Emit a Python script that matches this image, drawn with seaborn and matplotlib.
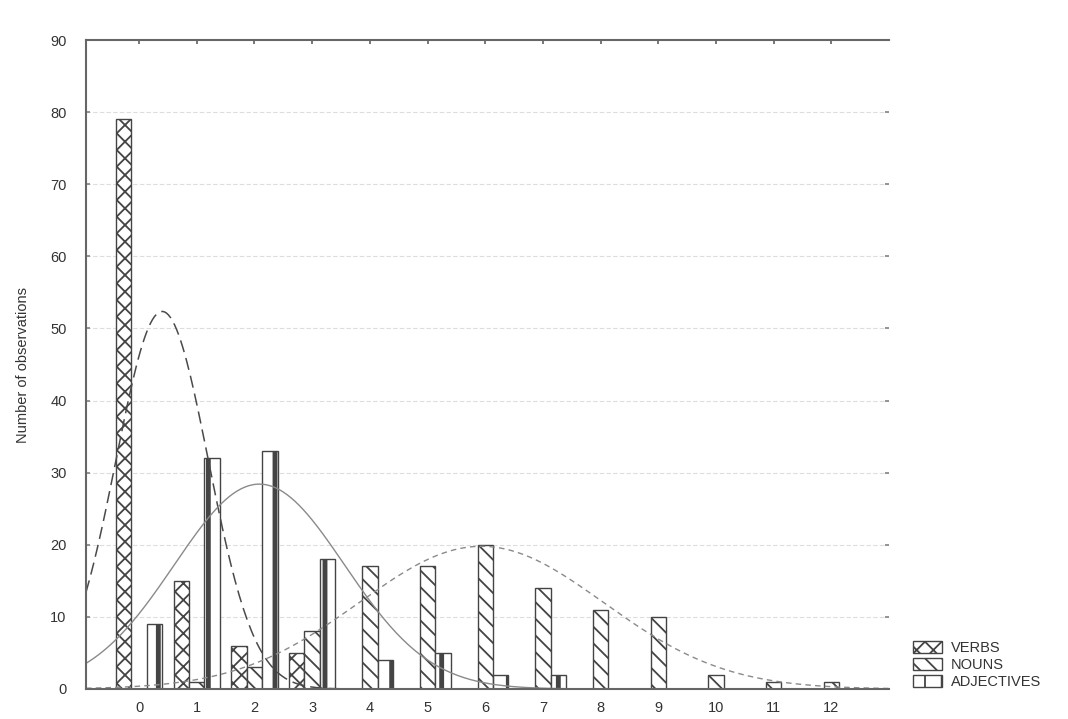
import numpy as np
import pandas as pd
import matplotlib
matplotlib.use("Agg")
import matplotlib.pyplot as plt
import seaborn as sns
from matplotlib.patches import Patch

# ---- data ----
categories = list(range(13))
verbs = [79, 15, 6, 5, 0, 0, 0, 0, 0, 0, 0, 0, 0]
nouns = [0, 1, 3, 8, 17, 17, 20, 14, 11, 10, 2, 1, 1]
adjectives = [9, 32, 33, 18, 4, 5, 2, 2, 0, 0, 0, 0, 0]
series_names = ["VERBS", "NOUNS", "ADJECTIVES"]
y_ticks = [0, 10, 20, 30, 40, 50, 60, 70, 80, 90]
y_label = "Number of observations"

sns.set_theme(style="white")
plt.rcParams["font.family"] = ["Liberation Sans", "DejaVu Sans"]
plt.rcParams["hatch.linewidth"] = 1.3
plt.rcParams["hatch.color"] = "#444444"

df = pd.DataFrame({
    "bin": categories * 3,
    "count": verbs + nouns + adjectives,
    "series": [series_names[0]] * 13 + [series_names[1]] * 13 + [series_names[2]] * 13,
})

fig = plt.figure(figsize=(10.68, 7.19), dpi=100)
ax = fig.add_axes([86 / 1068, 30 / 719, (889 - 86) / 1068, (689 - 40) / 719])

sns.barplot(data=df, x="bin", y="count", hue="series", hue_order=series_names,
            order=categories, width=0.8, dodge=True, legend=False, ax=ax,
            palette=["white"] * 3, edgecolor="#444444", linewidth=1.0,
            errorbar=None, saturation=1)

hatches = ["xx", "\\\\", "|"]
hatch_lw = [1.3, 1.3, 3.5]
for cont, h, hl in zip(ax.containers, hatches, hatch_lw):
    for p in cont.patches:
        p.set_hatch(h)
        p.set_facecolor("white")
        p.set_edgecolor("#444444")
        try:
            p.set_hatch_linewidth(hl)
        except Exception:
            pass

# fitted normal curves (from each series' own mean / sd / total)
xs = np.linspace(-0.92, 13.0, 400)
cat_arr = np.array(categories, dtype=float)
curve_styles = [
    dict(color="#4a4a4a", dashes=(8, 4), lw=1.1),
    dict(color="#8a8a8a", dashes=(4, 3), lw=1.0),
    dict(color="#8a8a8a", dashes=None, lw=1.0),
]
for vals, st in zip([verbs, nouns, adjectives], curve_styles):
    v = np.array(vals, dtype=float)
    n = v.sum()
    mu = (cat_arr * v).sum() / n
    sd = np.sqrt(((cat_arr - mu) ** 2 * v).sum() / n)
    ys = n / (sd * np.sqrt(2 * np.pi)) * np.exp(-(xs - mu) ** 2 / (2 * sd ** 2))
    sns.lineplot(x=xs, y=ys, ax=ax, color=st["color"], lw=st["lw"],
                 sort=False, estimator=None)
    ln = ax.lines[-1]
    if st["dashes"]:
        ln.set_dashes(st["dashes"])

ax.set_xlim(-0.92, 13.0)
ax.set_ylim(0, 90)
ax.set_yticks(y_ticks)
ax.set_yticklabels([str(t) for t in y_ticks], fontsize=10.5, color="#333333")
ax.set_xticks(categories)
ax.set_xticklabels([str(c) for c in categories], fontsize=10.5, color="#333333")
ax.set_xlabel("")
ax.set_ylabel(y_label, fontsize=10.5, color="#333333")
ax.yaxis.set_label_coords(-0.07, 0.5)

for yv in y_ticks[1:-1]:
    ax.axhline(yv, color="#dddddd", lw=0.8, ls=(0, (4, 2)), zorder=0)

for side in ["left", "bottom", "top"]:
    ax.spines[side].set_visible(True)
    ax.spines[side].set_color("#666666")
    ax.spines[side].set_linewidth(1.5)
ax.spines["right"].set_visible(False)

ax.tick_params(axis="y", which="both", left=True, direction="out",
               length=3, color="#888888", pad=14)
ax.tick_params(axis="y", which="both", right=True, direction="in")
ax.tick_params(axis="x", bottom=False, top=True, direction="in", length=3,
               color="#666666", pad=9)

handles = [Patch(facecolor="white", edgecolor="#444444", hatch=h, label=nm)
           for h, nm in zip(hatches, series_names)]
fig.legend(handles=handles, loc="lower left", bbox_to_anchor=(903 / 1068, 20 / 719),
           frameon=False, fontsize=10.5, handlelength=2.0, handleheight=0.9,
           labelspacing=0.2, handletextpad=0.6, borderpad=0.2,
           labelcolor="#333333")

fig.savefig("out.png", dpi=100, facecolor="white")
